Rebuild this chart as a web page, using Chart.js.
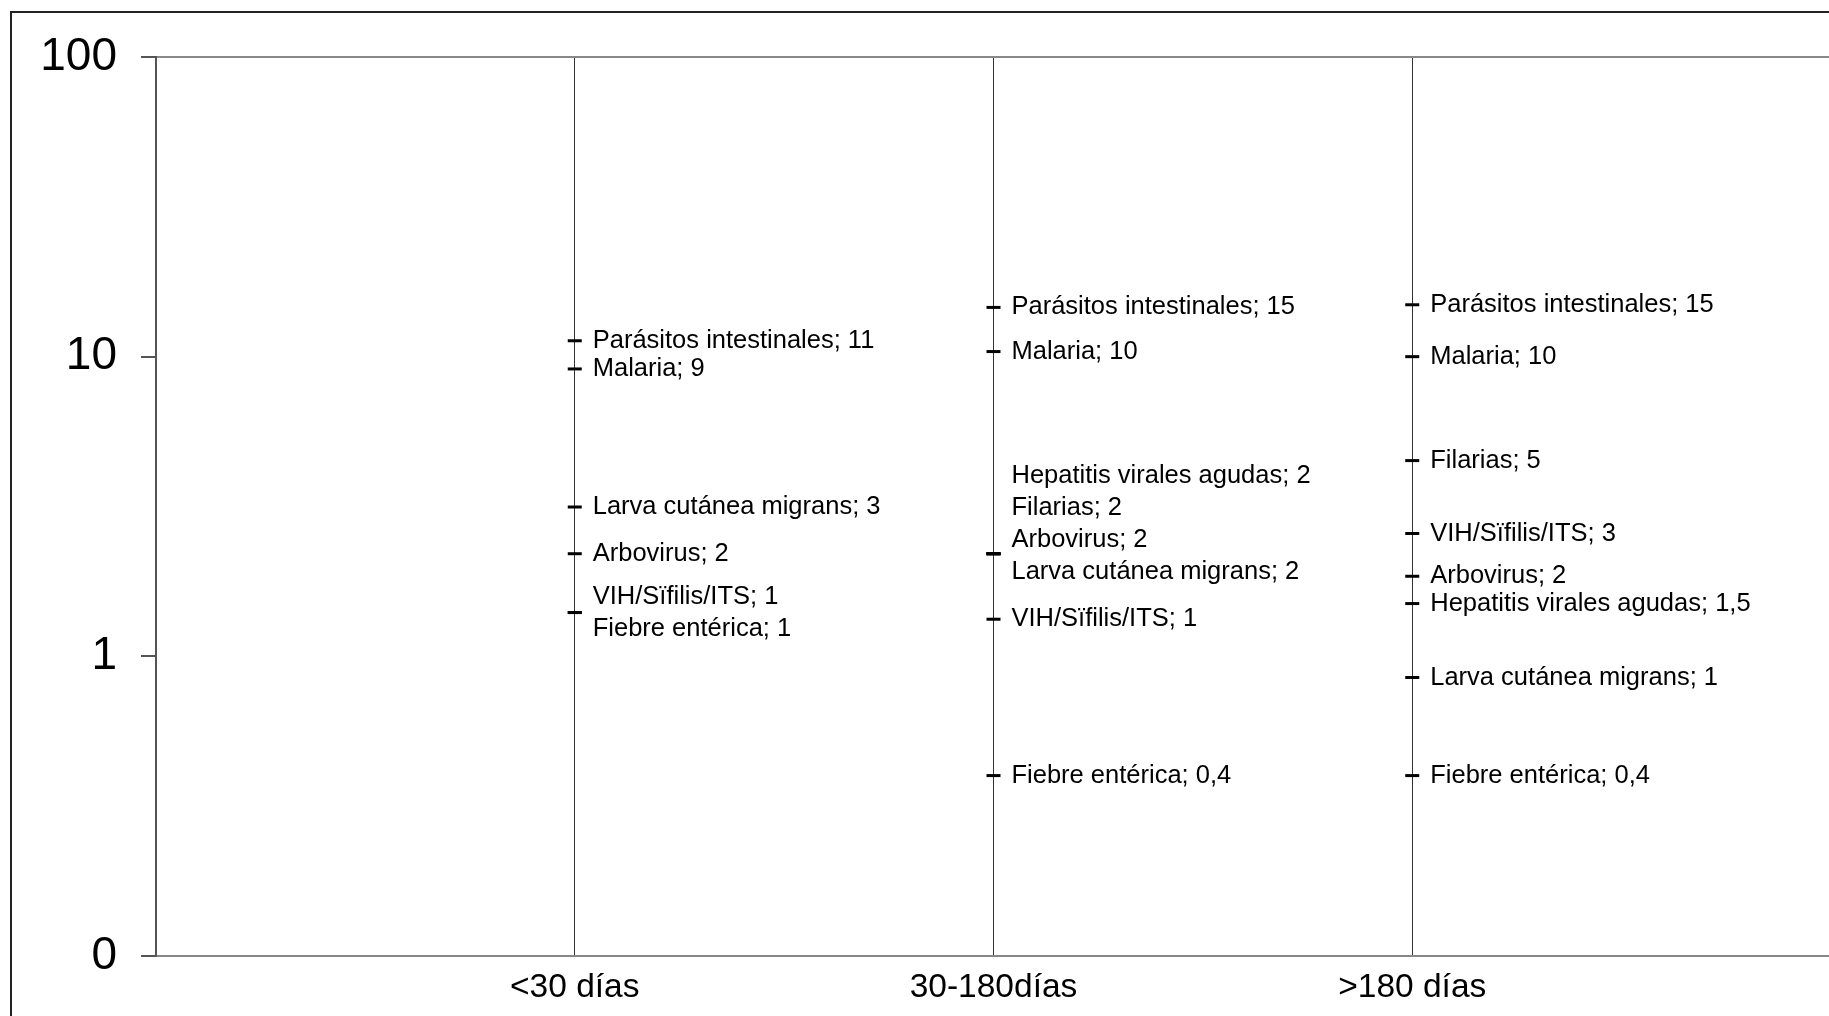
<!DOCTYPE html>
<html lang="es">
<head>
    <meta charset="UTF-8">
    <title>Patologías según duración del viaje</title>
    <script src="https://cdn.jsdelivr.net/npm/chart.js"></script>
    <style>
        html, body {
            margin: 0;
            padding: 0;
            overflow: hidden;
            background: #fff;
        }
        #frame {
            position: absolute;
            left: 10px;
            top: 11px;
            width: 2000px;
            height: 2000px;
            border: 2px solid #222;
        }
        #wrap {
            position: absolute;
            left: 0;
            top: 0;
        }
    </style>
</head>
<body>

<div id="frame"></div>
<div id="wrap"><canvas id="myChart" width="1841" height="1016"></canvas></div>

<script>
    // Categorías (duración del viaje)
    const categories = ['<30 días', '30-180días', '>180 días'];

    // <30 días
    const names1 = ['Parásitos intestinales', 'Malaria', 'Larva cutánea migrans', 'Arbovirus', 'VIH/Sïfilis/ITS', 'Fiebre entérica'];
    const values1 = [11.3, 9.1, 3.15, 2.2, 1.4, 1.4];
    const shown1 = ['11', '9', '3', '2', '1', '1'];

    // 30-180 días
    const names2 = ['Parásitos intestinales', 'Malaria', 'Hepatitis virales agudas', 'Filarias', 'Arbovirus', 'Larva cutánea migrans', 'VIH/Sïfilis/ITS', 'Fiebre entérica'];
    const values2 = [14.6, 10.4, 2.2, 2.2, 2.2, 2.2, 1.33, 0.4];
    const shown2 = ['15', '10', '2', '2', '2', '2', '1', '0,4'];

    // >180 días
    const names3 = ['Parásitos intestinales', 'Malaria', 'Filarias', 'VIH/Sïfilis/ITS', 'Arbovirus', 'Hepatitis virales agudas', 'Larva cutánea migrans', 'Fiebre entérica'];
    const values3 = [14.9, 10, 4.5, 2.57, 1.85, 1.5, 0.85, 0.4];
    const shown3 = ['15', '10', '5', '3', '2', '1,5', '1', '0,4'];

    // Ticks del eje Y (0 = 0,1 en escala logarítmica)
    const yTicks = [0.1, 1, 10, 100];
    const yTickLabels = ['0', '1', '10', '100'];

    const FONT = '"Liberation Sans", Arial, sans-serif';

    function buildPoints(cat, names, values, shown) {
        return values.map((v, i) => ({ x: cat, y: v, text: names[i] + '; ' + shown[i] }));
    }

    const groups = [
        buildPoints(1, names1, values1, shown1),
        buildPoints(2, names2, values2, shown2),
        buildPoints(3, names3, values3, shown3)
    ];

    // Etiquetas al lado de cada marca
    const pointLabels = {
        id: 'pointLabels',
        afterDatasetsDraw(chart) {
            const ctx = chart.ctx;
            ctx.save();
            ctx.font = '25.5px ' + FONT;
            ctx.fillStyle = '#000';
            ctx.textBaseline = 'middle';
            ctx.textAlign = 'left';
            chart.data.datasets.forEach((ds, di) => {
                const meta = chart.getDatasetMeta(di);
                const same = {};
                ds.data.forEach((p, i) => {
                    (same[p.y] = same[p.y] || []).push(i);
                });
                Object.values(same).forEach(idx => {
                    const n = idx.length;
                    const shift = n > 2 ? -(n - 2) * 15 : 0;
                    idx.forEach((i, k) => {
                        const el = meta.data[i];
                        const dy = (k - (n - 1) / 2) * 32 + shift;
                        ctx.fillText(ds.data[i].text, el.x + 18, el.y + dy);
                    });
                });
            });
            ctx.restore();
        }
    };

    const ctx = document.getElementById('myChart').getContext('2d');
    const myChart = new Chart(ctx, {
        type: 'scatter',
        data: {
            datasets: groups.map(g => ({
                data: g,
                pointStyle: 'line',
                pointRadius: 7,
                pointHoverRadius: 7,
                pointBorderWidth: 3,
                borderColor: '#000',
                backgroundColor: '#000'
            }))
        },
        options: {
            responsive: false,
            animation: false,
            layout: { padding: { top: 57, left: 0, right: 0, bottom: 0 } },
            plugins: {
                legend: { display: false },
                tooltip: { enabled: false }
            },
            scales: {
                x: {
                    type: 'linear',
                    min: 0,
                    max: 4,
                    afterBuildTicks: scale => {
                        scale.ticks = categories.map((c, i) => ({ value: i + 1 }));
                    },
                    afterFit: scale => { scale.height = 60; },
                    ticks: {
                        callback: v => categories[v - 1],
                        font: { family: FONT, size: 33.5 },
                        color: '#000',
                        padding: 12,
                        maxRotation: 0,
                        autoSkip: false
                    },
                    grid: {
                        color: '#333',
                        lineWidth: 1,
                        drawTicks: false
                    },
                    border: { color: '#888', width: 2 }
                },
                y: {
                    type: 'logarithmic',
                    min: 0.1,
                    max: 100,
                    afterBuildTicks: scale => {
                        scale.ticks = yTicks.map(v => ({ value: v }));
                    },
                    afterFit: scale => { scale.width = 156; },
                    ticks: {
                        callback: v => yTickLabels[yTicks.indexOf(v)],
                        font: { family: FONT, size: 46 },
                        color: '#000',
                        padding: 24,
                        autoSkip: false
                    },
                    grid: {
                        color: c => (c.tick && c.tick.value === 100) ? '#888' : 'rgba(0,0,0,0)',
                        lineWidth: 2,
                        tickColor: '#555',
                        tickLength: 15,
                        tickWidth: 2
                    },
                    border: { color: '#555', width: 2 }
                }
            }
        },
        plugins: [pointLabels]
    });
</script>

</body>
</html>
